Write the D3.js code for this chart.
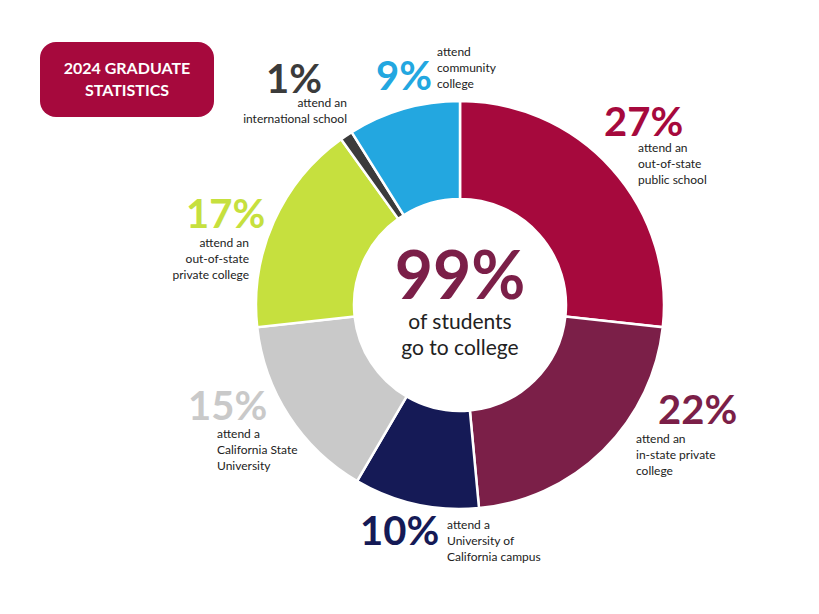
<!DOCTYPE html>
<html><head><meta charset="utf-8">
<script src="https://cdn.jsdelivr.net/npm/d3@7"></script>
<style>body{margin:0;background:#fff}text{font-family:Lato,"Open Sans",sans-serif}</style>
</head><body>
<script>
// slices, clockwise from 12 o'clock
var values = [27, 22, 10, 15, 17, 1, 9];
var colors = ["#a6093d", "#7b1f48", "#151a56", "#c9c9c9", "#c6e03e", "#3b3b3b", "#23a7e0"];
var pctLabels = ["27%", "22%", "10%", "15%", "17%", "1%", "9%"];
var descLabels = [
  ["attend an", "out-of-state", "public school"],
  ["attend an", "in-state private", "college"],
  ["attend a", "University of", "California campus"],
  ["attend a", "California State", "University"],
  ["attend an", "out-of-state", "private college"],
  ["attend an", "international school"],
  ["attend", "community", "college"]
];
// label anchor spots: [pctX, pctY, pctAnchor, descX, descY, descAnchor]
var labelPos = [
  [604, 136, "start", 638, 152, "start"],
  [658, 424, "start", 636, 443, "start"],
  [360, 545, "start", 447, 529, "start"],
  [188, 420, "start", 217, 438, "start"],
  [186, 228, "start", 249, 247, "end"],
  [322, 93, "end", 347, 107, "end"],
  [376, 90, "start", 437, 56, "start"]
];

var width = 819, height = 614, cx = 460, cy = 305;
var svg = d3.select("body").append("svg").attr("width", width).attr("height", height);

var pie = d3.pie().sort(null).value(function(d){ return d; });
var arc = d3.arc().innerRadius(106).outerRadius(204);

svg.append("g").attr("transform", "translate(" + cx + "," + cy + ")")
  .selectAll("path").data(pie(values)).enter().append("path")
  .attr("d", arc)
  .attr("fill", function(d, i){ return colors[i]; })
  .attr("stroke", "#fff").attr("stroke-width", 2.5);

// center text
svg.append("text").attr("x", cx).attr("y", cy - 6).attr("text-anchor", "middle")
  .attr("font-size", 66).attr("font-weight", "bold").attr("fill", "#7b1f48").text("99%");
svg.append("text").attr("x", cx).attr("y", cy + 24).attr("text-anchor", "middle")
  .attr("font-size", 21).attr("fill", "#222").text("of students");
svg.append("text").attr("x", cx).attr("y", cy + 50).attr("text-anchor", "middle")
  .attr("font-size", 21).attr("fill", "#222").text("go to college");

labelPos.forEach(function(p, i){
  svg.append("text").attr("x", p[0]).attr("y", p[1]).attr("text-anchor", p[2])
    .attr("font-size", 40).attr("font-weight", "bold").attr("fill", colors[i]).text(pctLabels[i]);
  var t = svg.append("text").attr("x", p[3]).attr("y", p[4]).attr("text-anchor", p[5])
    .attr("font-size", 12).attr("fill", "#222");
  descLabels[i].forEach(function(line, j){
    t.append("tspan").attr("x", p[3]).attr("dy", j ? 16 : 0).text(line);
  });
});

// title badge
svg.append("rect").attr("x", 40).attr("y", 42).attr("width", 174).attr("height", 75)
  .attr("rx", 16).attr("fill", "#a6093d");
svg.append("text").attr("x", 127).attr("y", 74).attr("text-anchor", "middle")
  .attr("font-size", 16).attr("font-weight", "bold").attr("fill", "#fff").text("2024 GRADUATE");
svg.append("text").attr("x", 127).attr("y", 96).attr("text-anchor", "middle")
  .attr("font-size", 16).attr("font-weight", "bold").attr("fill", "#fff").text("STATISTICS");
</script>
</body></html>
